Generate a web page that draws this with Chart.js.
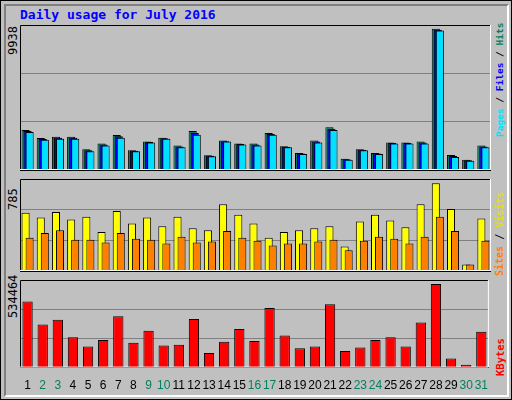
<!DOCTYPE html>
<html>
<head>
<meta charset="utf-8">
<script src="https://cdn.jsdelivr.net/npm/chart.js@4.4.0/dist/chart.umd.min.js"></script>
<style>
  body { margin: 0; background: #fff; }
  #frame { position: absolute; left: 0; top: 0; width: 510px; height: 398px; background: #c0c0c0; border: 1px solid #000; }
  #inner { position: absolute; left: 3px; top: 3px; width: 501px; height: 389px; border-right: 2px solid #fff; border-bottom: 2px solid #fff; border-left: 2px solid #808080; border-top: 2px solid #808080; }
  .panel { position: absolute; left: 20px; width: 471px; }
  .mono { font-family: "DejaVu Sans Mono", monospace; position: absolute; white-space: nowrap; }
  .rot { transform-origin: left top; transform: rotate(-90deg); }
</style>
</head>
<body>
<div id="frame"><div id="inner"></div></div>
<div class="mono" style="left:20px;top:7px;color:#0000ff;font-weight:bold;font-size:13px;">Daily usage for July 2016</div>
<div class="mono rot" style="left:6px;top:55px;font-size:12px;color:#000;">9938</div>
<div class="mono rot" style="left:6px;top:210px;font-size:12px;color:#000;">785</div>
<div class="mono rot" style="left:6px;top:318px;font-size:12px;color:#000;">534464</div>
<div class="mono rot" style="left:494px;top:137px;font-size:9.5px;font-weight:bold;"><span style="color:#00e0ff">Pages</span><span style="color:#000"> / </span><span style="color:#0000ff">Files</span><span style="color:#000"> / </span><span style="color:#008060">Hits</span></div>
<div class="mono rot" style="left:494px;top:276px;font-size:10px;font-weight:bold;"><span style="color:#ff8000">Sites</span><span style="color:#000"> / </span><span style="color:#e0e000">Visits</span></div>
<div class="mono rot" style="left:494px;top:376px;font-size:10.5px;font-weight:bold;color:#ff0000;">KBytes</div>

<div class="panel" style="top:25px;height:153px;"><canvas id="c1"></canvas></div>
<div class="panel" style="top:179px;height:100px;"><canvas id="c2"></canvas></div>
<div class="panel" style="top:280px;height:116px;"><canvas id="c3"></canvas></div>

<script>
const days = ["1","2","3","4","5","6","7","8","9","10","11","12","13","14","15","16","17","18","19","20","21","22","23","24","25","26","27","28","29","30","31"];
const weekend = ["2","3","9","10","16","17","23","24","30","31"];
const hits = [2810,2250,2340,2340,1460,1870,2470,1395,2000,2270,1730,2745,1035,2070,1870,1870,2610,1665,1190,2070,3015,790,1460,1190,1935,1935,2000,9938,1055,720,1730];
const files = [2740,2190,2270,2270,1390,1800,2370,1360,1970,2240,1660,2600,1000,2030,1830,1800,2540,1630,1160,2000,2900,750,1430,1160,1900,1900,1930,9880,990,690,1660];
const pages = [2675,2135,2205,2205,1325,1730,2270,1325,1935,2205,1595,2475,965,2000,1800,1730,2475,1595,1125,1935,2810,720,1395,1125,1865,1865,1865,9825,920,650,1595];
const visits = [520,477,528,460,485,348,537,425,477,400,485,383,365,597,502,425,297,348,365,383,400,220,443,502,451,391,597,785,554,57,468];
const sites = [297,340,365,280,280,254,340,288,280,245,305,254,263,357,297,271,228,245,245,263,280,186,271,305,288,245,305,485,357,57,271];
const kbytes = [422900,276000,305400,193800,135100,176200,328900,158600,234900,141000,146800,311300,94000,164500,246700,170300,381800,205600,123300,135100,405300,105700,129200,176200,193800,135100,287800,534464,58700,17600,229100];

function thirds(max) {
  return (scale) => { scale.ticks = [0, max / 3, 2 * max / 3, max].map(v => ({ value: v })); };
}

// webalizer draws back to front: first dataset behind, last in front
const forwardDraw = {
  id: "forwardDraw",
  beforeDatasetsDraw(chart) {
    const a = chart.chartArea, ctx = chart.ctx;
    ctx.save();
    ctx.beginPath(); ctx.rect(a.left, a.top, a.right - a.left, a.bottom - a.top); ctx.clip();
    for (let i = 0; i < chart.data.datasets.length; i++) chart.getDatasetMeta(i).controller.draw();
    ctx.restore();
    return false;
  }
};

const frame = {
  id: "frame",
  beforeDraw(chart) {
    const a = chart.chartArea, ctx = chart.ctx;
    ctx.save();
    ctx.fillStyle = "#c0c0c0";
    ctx.fillRect(a.left, a.top, a.right - a.left, a.bottom - a.top);
    ctx.restore();
  },
  afterDraw(chart) {
    const a = chart.chartArea, ctx = chart.ctx;
    ctx.save();
    ctx.lineWidth = 1;
    ctx.strokeStyle = "#000";
    ctx.beginPath(); ctx.moveTo(a.left + 0.5, a.bottom); ctx.lineTo(a.left + 0.5, a.top + 0.5); ctx.lineTo(a.right, a.top + 0.5); ctx.stroke();
    ctx.strokeStyle = "#fff";
    ctx.beginPath(); ctx.moveTo(a.right - 0.5, a.top); ctx.lineTo(a.right - 0.5, a.bottom - 0.5); ctx.lineTo(a.left, a.bottom - 0.5); ctx.stroke();
    ctx.restore();
  }
};

function panel(id, datasets, max, cp, bp, showX) {
  new Chart(document.getElementById(id), {
    type: "bar",
    data: { labels: days, datasets: datasets },
    options: {
      responsive: true, maintainAspectRatio: false, animation: false,
      layout: { padding: 0 },
      datasets: { bar: { categoryPercentage: cp, barPercentage: bp, borderColor: "#000", borderWidth: 1, borderSkipped: "bottom" } },
      plugins: { legend: { display: false }, tooltip: { enabled: false } },
      scales: {
        x: {
          grid: { display: false },
          border: { color: "#000", width: 1 },
          ticks: {
            display: showX, padding: 3, maxRotation: 0, autoSkip: false,
            font: { family: "Liberation Sans", size: 12 },
            color: (c) => weekend.includes(days[c.index]) ? "#008060" : "#000"
          }
        },
        y: {
          min: 0, max: max,
          afterBuildTicks: thirds(max),
          grid: { color: (c) => (c.index === 0 || c.index === 3) ? "rgba(0,0,0,0)" : "#808080", drawTicks: false, lineWidth: 1 },
          border: { display: false },
          ticks: { display: false }
        }
      }
    },
    plugins: [frame, forwardDraw]
  });
}

panel("c1", [
  { data: hits, backgroundColor: "#008060" },
  { data: files, backgroundColor: "#0000ff" },
  { data: pages, backgroundColor: "#00e0ff" }
], 10207, 0.4, 4, false);

panel("c2", [
  { data: visits, backgroundColor: "#ffff00" },
  { data: sites, backgroundColor: "#ff8000" }
], 822, 0.53, 2, false);

panel("c3", [
  { data: kbytes, backgroundColor: "#ff0000" }
], 560000, 0.68, 1, true);
</script>
</body>
</html>
